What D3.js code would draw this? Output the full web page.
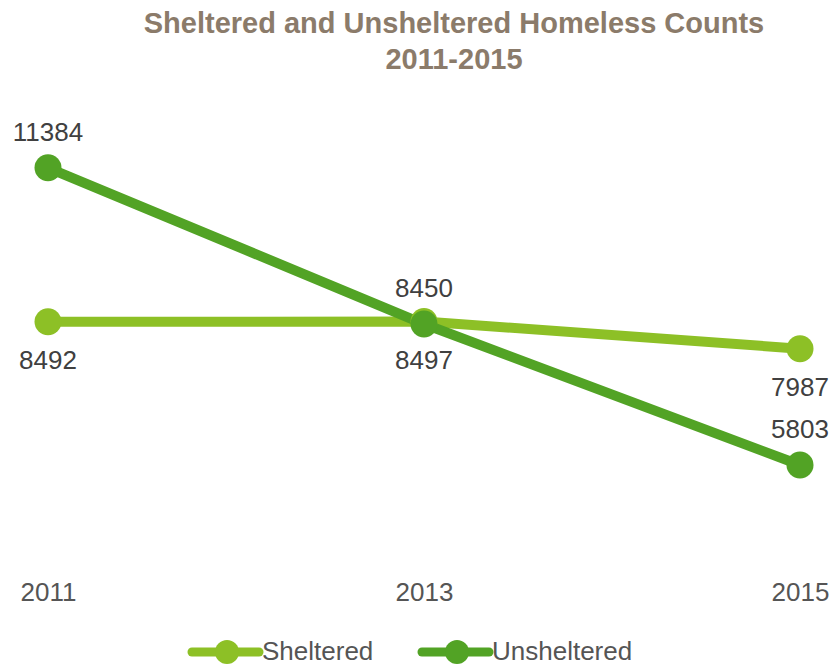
<!DOCTYPE html>
<html>
<head>
<meta charset="utf-8">
<script src="https://cdn.jsdelivr.net/npm/d3@7"></script>
<style>
  html, body { margin: 0; padding: 0; background: #fff; }
  svg { display: block; }
</style>
</head>
<body>
<svg id="chart" width="837" height="666"></svg>
<script>
// Homeless point-in-time counts by year
const years = ["2011", "2013", "2015"];
const sheltered = [8492, 8497, 7987];
const unsheltered = [11384, 8450, 5803];
const seriesNames = ["Sheltered", "Unsheltered"];
const seriesColors = ["#8DC026", "#52A325"];
const titleLines = ["Sheltered and Unsheltered Homeless Counts", "2011-2015"];

const svg = d3.select("#chart");
const font = "Liberation Sans, Arial, Helvetica, sans-serif";

const x = d3.scalePoint().domain(years).range([48, 800]);
const y = d3.scaleLinear().domain([4000, 12000]).range([561, 135]);

// Title
svg.append("g").selectAll("text")
  .data(titleLines)
  .join("text")
  .attr("x", 454)
  .attr("y", (d, i) => 33 + i * 36)
  .attr("text-anchor", "middle")
  .attr("font-family", font)
  .attr("font-weight", "bold")
  .attr("font-size", 29)
  .attr("fill", "#8B7B6A")
  .text(d => d);

// Category axis (no line, no ticks)
const xAxis = svg.append("g")
  .attr("transform", "translate(0,583)")
  .call(d3.axisBottom(x).tickSize(0).tickPadding(0));
xAxis.select(".domain").remove();
xAxis.selectAll("text")
  .attr("dy", "0.71em")
  .attr("font-family", font)
  .attr("font-size", 26)
  .attr("fill", "#555555");

const series = [
  { name: seriesNames[0], values: sheltered, color: seriesColors[0], labelDy: 47 },
  { name: seriesNames[1], values: unsheltered, color: seriesColors[1], labelDy: -27 }
];

const line = d3.line()
  .x((d, i) => x(years[i]))
  .y(d => y(d));

const g = svg.append("g");
series.forEach(s => {
  g.append("path")
    .datum(s.values)
    .attr("d", line)
    .attr("fill", "none")
    .attr("stroke", s.color)
    .attr("stroke-width", 10)
    .attr("stroke-linecap", "round")
    .attr("stroke-linejoin", "round");
});
series.forEach(s => {
  g.append("g").selectAll("circle")
    .data(s.values)
    .join("circle")
    .attr("cx", (d, i) => x(years[i]))
    .attr("cy", d => y(d))
    .attr("r", 13.5)
    .attr("fill", s.color);
});

// Value labels
series.forEach(s => {
  g.append("g").selectAll("text")
    .data(s.values)
    .join("text")
    .attr("x", (d, i) => Math.min(x(years[i]), 803))
    .attr("y", d => y(d) + s.labelDy)
    .attr("text-anchor", "middle")
    .attr("font-family", font)
    .attr("font-size", 26)
    .attr("fill", "#404040")
    .text(d => d);
});

// Legend
const legendItems = [
  { name: seriesNames[0], color: seriesColors[0], x0: 192 },
  { name: seriesNames[1], color: seriesColors[1], x0: 422 }
];
const leg = svg.append("g").attr("transform", "translate(0,652)");
legendItems.forEach(it => {
  leg.append("line")
    .attr("x1", it.x0).attr("x2", it.x0 + 67)
    .attr("y1", 0).attr("y2", 0)
    .attr("stroke", it.color)
    .attr("stroke-width", 9)
    .attr("stroke-linecap", "round");
  leg.append("circle")
    .attr("cx", it.x0 + 35).attr("cy", 0)
    .attr("r", 12)
    .attr("fill", it.color);
  leg.append("text")
    .attr("x", it.x0 + 70)
    .attr("y", 0)
    .attr("dy", "0.31em")
    .attr("font-family", font)
    .attr("font-size", 26)
    .attr("fill", "#555555")
    .text(it.name);
});
</script>
</body>
</html>
